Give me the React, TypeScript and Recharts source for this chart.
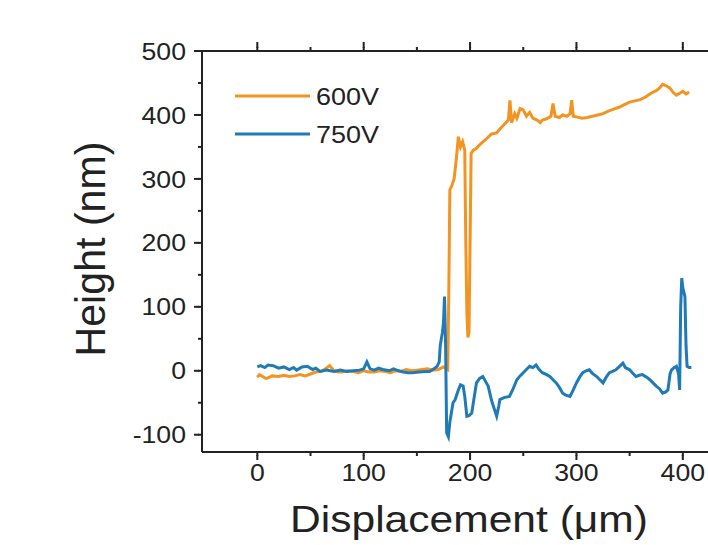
import { LineChart, Line, XAxis, YAxis, Customized } from 'recharts';

const disp600 = [
  0, 2, 5, 8, 10, 14, 20, 25, 30, 35, 40, 45, 50, 55, 60, 64, 68, 72, 76, 80, 85, 90, 95, 100, 105, 110, 115, 120,
  125, 130, 135, 140, 145, 150, 155, 160, 165, 170, 175, 179, 180, 181, 183, 185, 187, 189, 191, 193, 195, 196,
  197, 198, 199, 200, 201, 203, 206, 210, 215, 220, 225, 228, 232, 236, 237.5, 239, 242, 244, 247, 250, 253, 256,
  259, 263, 266, 268, 272, 276, 278, 280, 284, 287, 291, 294, 295.5, 297, 300, 305, 310, 315, 320, 325, 330, 335,
  340, 345, 350, 355, 360, 365, 370, 375, 378, 381, 384, 388, 391, 394, 397, 400, 403, 406
];
const height600 = [
  -10, -6, -9, -12, -11, -8, -9, -7, -9, -8, -6, -8, -5, -2, -1, 3, 8, 0, -2, -2, 0, -1, -3, 0, -2, -2, 0, -1,
  -3, 0, -1, 2, 0, 1, 2, 3, 1, 2, 6, 2, 120, 283, 290, 300, 330, 366, 350, 358, 345, 200,
  90, 52, 60, 200, 340, 345, 348, 355, 362, 370, 372, 378, 385, 392, 423, 388, 402, 395, 410, 408, 398, 404,
  395, 392, 388, 392, 394, 398, 418, 398, 396, 400, 398, 402, 423, 398, 397, 395, 396, 398, 400, 402, 406, 409,
  412, 416, 420, 422, 424, 428, 434, 438, 442, 448, 446, 442, 435, 431, 434, 437, 433, 436
];

const disp750 = [
  0, 3, 7, 10, 15, 20, 25, 30, 34, 37, 42, 47, 52, 55, 59, 65, 72, 78, 84, 90, 96, 100, 103,
  106, 110, 114, 118, 124, 128, 131, 137, 142, 146, 152, 158, 162, 166, 169, 171, 172, 174, 175, 176, 177, 178,
  179.6, 181, 184, 186, 189, 191, 193.5, 195, 197, 199, 201.6, 204, 206, 209, 212, 214, 217, 220, 222, 225,
  227, 228, 232, 237, 240, 244, 247, 250, 253, 256, 259, 262, 265, 268, 272, 275, 278, 281, 284, 287,
  290, 294, 297, 300, 303, 306, 309, 312, 315, 319, 322, 325, 328, 331, 334, 337, 340, 343.7, 346, 350,
  353, 356, 359, 362, 366, 369, 372, 375, 378, 381, 384, 386, 388, 389.4, 392, 394, 396, 397, 398, 399,
  400, 402, 403, 404, 406, 408
];
const height750 = [
  6, 8, 5, 9, 8, 4, 6, 2, 5, 1, 6, 7, 2, 4, -1, 1, -1, 1, -1, 0, 1, 3, 14,
  3, 1, 4, 2, 0, 3, 1, -2, -3, -3, -2, -1, -1, 3, 7, 14, 40, 60, 75, 116, 40, -97,
  -103, -80, -50, -45, -30, -22, -24, -40, -71, -70, -66, -40, -19, -12, -9, -15, -24, -45, -56, -71,
  -55, -45, -42, -40, -30, -14, -8, -3, 2, 7, 5, 9, 2, -3, -6, -9, -14, -19, -26, -35,
  -38, -40, -30, -19, -10, -3, 0, 1.5, -4, -9, -14, -19, -10, -3, -1, 1.5, 6, 12, 5, 1.5,
  -4, -9, -7, -6, -10, -14, -19, -24, -28, -35, -33, -30, -5, 1.5, 5, 7, -5, -30, 100, 145,
  130, 116, 40, 7, 5, 5
];

const seriesNames = ['600V', '750V'];
const seriesColors = ['#F39322', '#1F7AB8'];
const xTicks = [0, 50, 100, 150, 200, 250, 300, 350, 400];
const yTicks = [-100, -50, 0, 50, 100, 150, 200, 250, 300, 350, 400, 450, 500];

const data600 = disp600.map((x, i) => ({ x, y: height600[i] }));
const data750 = disp750.map((x, i) => ({ x, y: height750[i] }));

const FONT = '"Liberation Sans", Arial, sans-serif';
const INK = '#222';
const STRETCH = 1.11;
const tickStyle = { stroke: INK, strokeWidth: 2 };

// native tick line is the 4px minor length; majors get an extra 4px piece here
function BottomTick(props: any) {
  const { x, y, payload } = props;
  if (payload.value % 100 !== 0) return <g />;
  const label = String(payload.value);
  return (
    <g>
      <path d={`M${x},${y - 1}V${y + 4}`} stroke={INK} strokeWidth={2} fill="none" />
      <text x={x} y={y + 25} textAnchor="middle" fontSize={24} fontFamily={FONT} fill={INK}
        textLength={label.length * 0.556 * 24 * STRETCH} lengthAdjust="spacingAndGlyphs">
        {label}
      </text>
    </g>
  );
}

function TopTick(props: any) {
  const { x, y, payload } = props;
  if (payload.value % 100 !== 0) return <g />;
  return <path d={`M${x},${y + 1}V${y - 5}`} stroke={INK} strokeWidth={2} fill="none" />;
}

function LeftTick(props: any) {
  const { x, y, payload } = props;
  if (payload.value % 100 !== 0) return <g />;
  const label = String(payload.value);
  const w = label.replace('-', '').length * 0.556 * 24 + (label.startsWith('-') ? 0.333 * 24 : 0);
  return (
    <g>
      <path d={`M${x + 1},${y}H${x - 4}`} stroke={INK} strokeWidth={2} fill="none" />
      <text x={x - 12} y={y + 8.6} textAnchor="end" fontSize={24} fontFamily={FONT} fill={INK}
        textLength={w * STRETCH} lengthAdjust="spacingAndGlyphs">
        {label}
      </text>
    </g>
  );
}

function Labels() {
  const rows = [96, 134];
  return (
    <g>
      {seriesNames.map((name, i) => (
        <g key={name}>
          <line x1={235} x2={310} y1={rows[i]} y2={rows[i]} stroke={seriesColors[i]} strokeWidth={3} />
          <text x={316} y={rows[i] + 8.6} fontSize={24} fontFamily={FONT} fill={INK}
            textLength={63} lengthAdjust="spacingAndGlyphs">
            {name}
          </text>
        </g>
      ))}
      <text x={469} y={532} textAnchor="middle" fontSize={37.5} fontFamily={FONT} fill={INK}
        textLength={358} lengthAdjust="spacingAndGlyphs">
        Displacement (μm)
      </text>
      <text transform="translate(105,249) rotate(-90) scale(1,1.1)" x={0} y={0} textAnchor="middle"
        fontSize={38} fontFamily={FONT} fill={INK} textLength={215} lengthAdjust="spacingAndGlyphs">
        Height (nm)
      </text>
    </g>
  );
}

export default function App() {
  return (
    <div style={{ position: 'absolute', left: 0, top: 0, width: 708, height: 545, overflow: 'hidden', background: '#fff' }}>
      <LineChart width={760} height={545} margin={{ top: 50, right: 23, bottom: 0, left: 0 }}>
        <XAxis
          dataKey="x"
          type="number"
          domain={[-52, 450]}
          ticks={xTicks}
          allowDataOverflow
          height={93}
          tickSize={4}
          tickMargin={0}
          tickLine={tickStyle}
          tick={<BottomTick />}
          axisLine={{ stroke: INK, strokeWidth: 2 }}
        />
        <XAxis
          xAxisId="top"
          orientation="top"
          dataKey="x"
          type="number"
          domain={[-52, 450]}
          ticks={xTicks}
          allowDataOverflow
          height={1}
          tickSize={4}
          tickMargin={0}
          tickLine={tickStyle}
          tick={<TopTick />}
          axisLine={{ stroke: INK, strokeWidth: 2 }}
        />
        <YAxis
          type="number"
          domain={[-127, 500]}
          ticks={yTicks}
          allowDataOverflow
          width={202}
          tickSize={4}
          tickMargin={0}
          tickLine={tickStyle}
          tick={<LeftTick />}
          axisLine={{ stroke: INK, strokeWidth: 2 }}
        />
        <YAxis
          yAxisId="right"
          orientation="right"
          type="number"
          domain={[-127, 500]}
          allowDataOverflow
          width={1}
          tick={false}
          tickLine={false}
          axisLine={{ stroke: INK, strokeWidth: 2 }}
        />
        <Line data={data600} dataKey="y" name={seriesNames[0]} stroke={seriesColors[0]} strokeWidth={3}
          dot={false} isAnimationActive={false} />
        <Line data={data750} dataKey="y" name={seriesNames[1]} stroke={seriesColors[1]} strokeWidth={3}
          dot={false} isAnimationActive={false} />
        <Line data={data600} dataKey="y" xAxisId="top" yAxisId="right" stroke="none" legendType="none"
          dot={false} activeDot={false} isAnimationActive={false} />
        <Customized component={Labels} />
      </LineChart>
    </div>
  );
}
